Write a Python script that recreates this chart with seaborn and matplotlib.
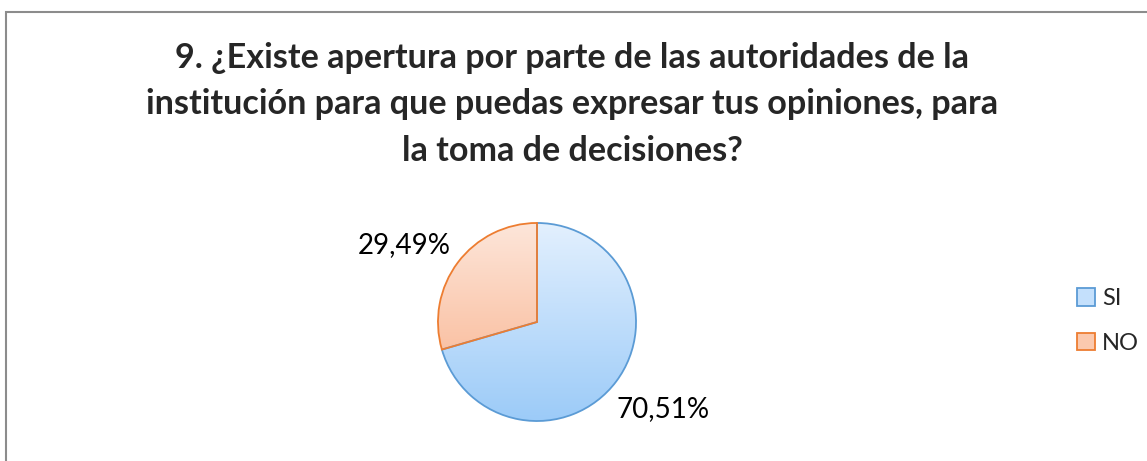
import numpy as np
import matplotlib
matplotlib.use("Agg")
import matplotlib.pyplot as plt
from matplotlib.patches import Patch, Rectangle
from matplotlib.colors import LinearSegmentedColormap
import seaborn as sns

categories = ["SI", "NO"]
values = [70.51, 29.49]
title = ("9. ¿Existe apertura por parte de las autoridades de la\n"
         "institución para que puedas expresar tus opiniones, para\n"
         "la toma de decisiones?")

edge_colors = ["#5B9BD5", "#ED7D31"]
top_colors = ["#E3F0FE", "#FDE6DA"]
bottom_colors = ["#9CCBF8", "#F8AE87"]


def pct_label(pct):
    return f"{pct:.2f}".replace(".", ",") + "%"


def main():
    sns.set_theme(style="white")
    plt.rcParams["font.family"] = ["Lato", "DejaVu Sans"]

    W, H = 1147, 461
    fig = plt.figure(figsize=(W / 100, H / 100), dpi=100)
    fig.patch.set_facecolor("white")

    # chart frame (cut off at right and bottom like the source)
    fig.add_artist(Rectangle((6 / W, -0.1), 1.2, (H - 12) / H + 0.1,
                             transform=fig.transFigure, fill=False,
                             edgecolor="#8C8C8C", linewidth=1.5))

    cx, cy, r = 537, 322, 101
    ax = fig.add_axes([(cx - r) / W, (H - cy - r) / H, 2 * r / W, 2 * r / H])
    wedges, texts, autotexts = ax.pie(
        values, startangle=90, counterclock=False, radius=1,
        autopct=pct_label, pctdistance=1.55,
        wedgeprops=dict(linewidth=1.3),
        textprops=dict(fontsize=20, color="black"))
    ax.set_xlim(-1.02, 1.02)
    ax.set_ylim(-1.02, 1.02)
    ax.set_aspect("equal")
    ax.axis("off")

    # data labels sit a bit lower than the default radial spot
    autotexts[0].set_position((1.27, -0.88))
    autotexts[1].set_position((-1.34, 0.78))

    grad = np.linspace(0, 1, 256).reshape(-1, 1)
    for w, ec, tc, bc in zip(wedges, edge_colors, top_colors, bottom_colors):
        w.set_facecolor("none")
        w.set_edgecolor(ec)
        w.set_zorder(3)
        cmap = LinearSegmentedColormap.from_list("g", [tc, bc])
        im = ax.imshow(grad, cmap=cmap, extent=(-1, 1, -1, 1),
                       origin="upper", aspect="auto", zorder=2)
        im.set_clip_path(w)

    fig.text(572 / W, 1 - 42 / H, title, ha="center", va="top",
             fontsize=24.6, fontweight="bold", linespacing=1.55)

    handles = [Patch(facecolor=m, edgecolor=ec, linewidth=1.3)
               for m, ec in zip(["#C4E0FC", "#FBC9AE"], edge_colors)]
    fig.legend(handles, categories, loc="center left",
               bbox_to_anchor=(1056 / W, 1 - 321 / H), frameon=False,
               fontsize=17, handlelength=0.75, handleheight=0.75,
               handletextpad=0.3, labelspacing=1.0)

    fig.savefig("out.png", dpi=100)


if __name__ == "__main__":
    main()
